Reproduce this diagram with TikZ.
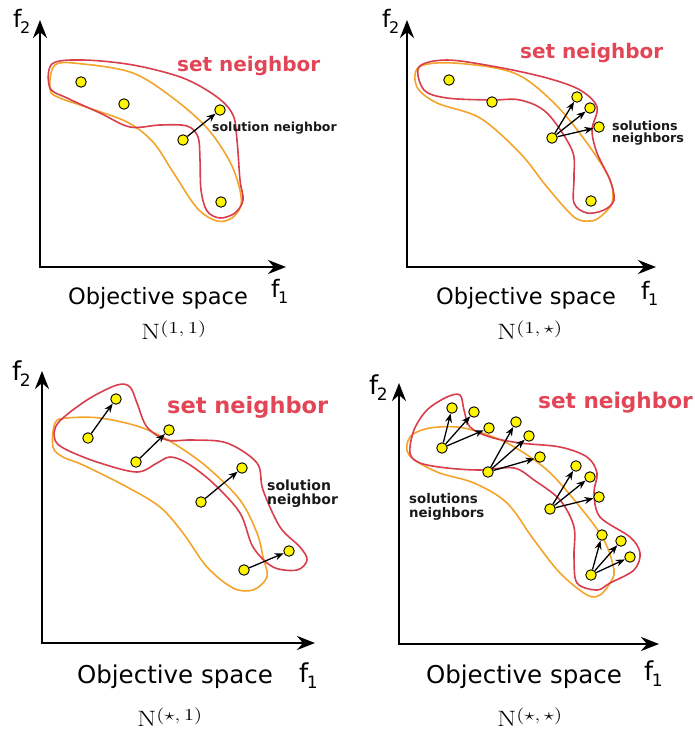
\RequirePackage{fix-cm}
\documentclass[tikz,border=0pt]{standalone}
\usepackage[no-math]{fontspec}
\setmainfont{DejaVu Sans}
\usetikzlibrary{arrows.meta}
\definecolor{setred}{RGB}{226,70,86}
\definecolor{curvered}{RGB}{216,62,76}
\definecolor{curveorange}{RGB}{244,164,42}
\definecolor{ptyellow}{RGB}{255,245,0}
\newcommand{\flabel}[3]{\fontsize{#2}{#2}\selectfont f\kern-1.5pt\raisebox{-6pt}{\fontsize{#3}{#3}\selectfont #1}}
\newcommand{\nsym}[1]{\scalebox{1.5}[1.2]{\fontsize{18.5}{20}\selectfont$\mathrm{N}$\raisebox{5pt}{\fontsize{14}{16}\selectfont$(#1)$}}}
\begin{document}
\begin{tikzpicture}[x=1pt,y=-1pt,
  axis/.style={line width=2.8pt, line join=miter,
    {Stealth[length=18pt,width=14pt,inset=6pt]}-{Stealth[length=18pt,width=14pt,inset=6pt]}},
  pt/.style={circle, draw=black, line width=0.9pt, fill=ptyellow, minimum size=10.5pt, inner sep=0pt},
  arr/.style={line width=1.3pt, -{Stealth[length=9pt,width=7pt]}},
  redc/.style={draw=curvered, line width=1.6pt},
  orc/.style={draw=curveorange, line width=1.6pt},
  olab/.style={font=\fontsize{22.5}{27}\selectfont, anchor=base, inner sep=0pt},
  olabb/.style={font=\fontsize{24.5}{29}\selectfont, anchor=base, inner sep=0pt},
  setlab/.style={font=\bfseries\fontsize{20}{24}\selectfont, text=setred, anchor=base west, inner sep=0pt},
  setlabb/.style={font=\bfseries\fontsize{22.5}{27}\selectfont, text=setred, anchor=base west, inner sep=0pt},
  sol/.style={text=black!90, anchor=base west, inner sep=0pt},
  nlab/.style={anchor=base west, inner sep=0pt},
  flab/.style={anchor=base west, inner sep=0pt}
]
\useasboundingbox (0,0) rectangle (694,731);

% ================= Panel 1 =================
\draw[orc] plot[smooth cycle, tension=0.55] coordinates {(50,90) (60,98) (83,106) (127,122) (153,142) (173,172) (197,208) (217,221) (232,218) (241,205) (239,186) (229,160) (207,128) (173,98) (133,73) (83,64) (55,65)};
\draw[redc] plot[smooth cycle, tension=0.55] coordinates {(52,64) (83,60) (133,65) (183,78) (217,97) (233,115) (237,140) (240,180) (243,200) (235,213) (220,218) (207,211) (201,190) (200,160) (198,137) (187,126) (160,125) (130,127) (100,113) (67,98) (50,88)};
\coordinate (y1) at (40,20); \coordinate (o1) at (40,267); \coordinate (x1) at (286,267);
\draw[axis] (y1) -- (o1) -- (x1);
\node[flab] (f2a) at (13,27) {\flabel{2}{24}{16}};
\node[flab] (f1a) at (271,297) {\flabel{1}{24}{16}};
\node[olab] (os1) at (158,304) {Objective space};
\node[nlab] (n1) at (141,339) {\nsym{1,1}};
\node[setlab] (sn1) at (177,71) {set neighbor};
\node[sol, font=\bfseries\fontsize{12.5}{15}\selectfont] (sl1) at (212,131) {solution neighbor};
\node[pt] (p1a) at (81,82) {};
\node[pt] (p1b) at (124,104) {};
\node[pt] (p1c) at (220,110) {};
\node[pt] (p1d) at (183,140) {};
\node[pt] (p1e) at (221,202) {};
\draw[arr] (p1d) -- (p1c);

% ================= Panel 2 =================
\draw[orc] plot[smooth cycle, tension=0.55] coordinates {(417,87) (419,67) (454,63) (514,73) (554,103) (587,143) (610,180) (612,203) (600,217) (590,221) (574,217) (547,187) (520,153) (480,118) (437,103)};
\draw[redc] plot[smooth cycle, tension=0.55] coordinates {(419,67) (447,60) (497,67) (547,78) (580,90) (597,107) (592,130) (597,153) (610,180) (614,200) (604,210) (587,213) (574,203) (574,177) (572,150) (547,113) (520,100) (490,100) (447,98) (424,90)};
\coordinate (y2) at (407,20); \coordinate (o2) at (407,267); \coordinate (x2) at (656,267);
\draw[axis] (y2) -- (o2) -- (x2);
\node[flab] (f2b) at (382,27) {\flabel{2}{24}{16}};
\node[flab] (f1b) at (641,299) {\flabel{1}{24}{16}};
\node[olab] (os2) at (526,304) {Objective space};
\node[nlab] (n2) at (497,339) {\nsym{1,\star}};
\node[setlab] (sn2) at (520,58) {set neighbor};
\node[sol, font=\bfseries\fontsize{12.7}{15}\selectfont] (sl2a) at (612,130) {solutions};
\node[sol, font=\bfseries\fontsize{12.7}{15}\selectfont] (sl2b) at (612,142) {neighbors};
\node[pt] (p2a) at (449,80) {};
\node[pt] (p2b) at (492,102) {};
\node[pt] (p2c) at (577,97) {};
\node[pt] (p2d) at (590,108) {};
\node[pt] (p2e) at (599,127) {};
\node[pt] (p2f) at (552,138) {};
\node[pt] (p2g) at (591,201) {};
\draw[arr] (p2f) -- (p2c);
\draw[arr] (p2f) -- (p2d);
\draw[arr] (p2f) -- (p2e);

% ================= Panel 3 =================
\draw[orc] plot[smooth cycle, tension=0.55] coordinates {(53,447) (55,423) (67,418) (100,418) (140,427) (173,443) (207,467) (240,500) (257,533) (263,557) (267,577) (253,590) (233,588) (207,567) (183,533) (160,507) (127,487) (83,465) (63,457)};
\draw[redc] plot[smooth cycle, tension=0.55] coordinates {(58,423) (87,400) (117,385) (130,387) (137,403) (147,427) (167,440) (193,440) (227,443) (257,463) (263,490) (280,527) (300,547) (307,560) (297,570) (273,567) (253,547) (240,513) (213,483) (187,463) (170,457) (157,463) (137,472) (100,463) (67,450) (55,440)};
\coordinate (y3) at (42,371); \coordinate (o3) at (42,643); \coordinate (x3) at (315,643);
\draw[axis] (y3) -- (o3) -- (x3);
\node[flab] (f2c) at (12,380) {\flabel{2}{26}{17}};
\node[flab] (f1c) at (299,682) {\flabel{1}{26}{17}};
\node[olabb] (os3) at (175,683) {Objective space};
\node[nlab] (n3) at (137,726) {\nsym{\star,1}};
\node[setlabb] (sn3) at (167,413) {set neighbor};
\node[sol, font=\bfseries\fontsize{14}{16}\selectfont] (sl3a) at (267,490) {solution};
\node[sol, font=\bfseries\fontsize{14}{16}\selectfont] (sl3b) at (267,504) {neighbor};
\node[pt] (p3a) at (88,438) {};
\node[pt] (p3b) at (116,399) {};
\node[pt] (p3c) at (136,462) {};
\node[pt] (p3d) at (169,430) {};
\node[pt] (p3e) at (201,502) {};
\node[pt] (p3f) at (242,468) {};
\node[pt] (p3g) at (244,570) {};
\node[pt] (p3h) at (289,551) {};
\draw[arr] (p3a) -- (p3b);
\draw[arr] (p3c) -- (p3d);
\draw[arr] (p3e) -- (p3f);
\draw[arr] (p3g) -- (p3h);

% ================= Panel 4 =================
\draw[orc] plot[smooth cycle, tension=0.55] coordinates {(409,455) (410,437) (430,428) (464,428) (507,443) (547,470) (580,507) (604,540) (614,570) (610,583) (600,595) (587,595) (560,573) (534,540) (507,503) (474,483) (437,472)};
\draw[redc] plot[smooth cycle, tension=0.55] coordinates {(410,453) (414,430) (427,410) (447,397) (460,395) (464,410) (470,427) (490,437) (520,443) (560,447) (587,457) (597,473) (594,493) (600,517) (630,537) (640,553) (634,570) (610,583) (597,590) (577,583) (574,557) (574,527) (560,500) (534,480) (514,468) (480,470) (447,468) (420,463)};
\coordinate (y4) at (399,383); \coordinate (o4) at (399,644); \coordinate (x4) at (659,644);
\draw[axis] (y4) -- (o4) -- (x4);
\node[flab] (f2d) at (369,394) {\flabel{2}{26}{17}};
\node[flab] (f1d) at (644,680) {\flabel{1}{26}{17}};
\node[olabb] (os4) at (524,683) {Objective space};
\node[nlab] (n4) at (497,726) {\nsym{\star,\star}};
\node[setlabb, font=\bfseries\fontsize{21.6}{26}\selectfont] (sn4) at (538,408) {set neighbor};
\node[sol, font=\bfseries\fontsize{13.3}{16}\selectfont] (sl4a) at (409,503) {solutions};
\node[sol, font=\bfseries\fontsize{13.3}{16}\selectfont] (sl4b) at (409,517) {neighbors};
% cluster 1
\node[pt] (q1s) at (442,448) {};
\node[pt] (q1a) at (452,408) {};
\node[pt] (q1b) at (474,412) {};
\node[pt] (q1c) at (489,428) {};
\draw[arr] (q1s) -- (q1a);
\draw[arr] (q1s) -- (q1b);
\draw[arr] (q1s) -- (q1c);
% cluster 2
\node[pt] (q2s) at (488,472) {};
\node[pt] (q2a) at (516,422) {};
\node[pt] (q2b) at (529,436) {};
\node[pt] (q2c) at (540,457) {};
\draw[arr] (q2s) -- (q2a);
\draw[arr] (q2s) -- (q2b);
\draw[arr] (q2s) -- (q2c);
% cluster 3
\node[pt] (q3s) at (550,509) {};
\node[pt] (q3a) at (576,466) {};
\node[pt] (q3b) at (590,477) {};
\node[pt] (q3c) at (599,497) {};
\draw[arr] (q3s) -- (q3a);
\draw[arr] (q3s) -- (q3b);
\draw[arr] (q3s) -- (q3c);
% cluster 4
\node[pt] (q4s) at (591,575) {};
\node[pt] (q4a) at (602,535) {};
\node[pt] (q4b) at (621,541) {};
\node[pt] (q4c) at (630,557) {};
\draw[arr] (q4s) -- (q4a);
\draw[arr] (q4s) -- (q4b);
\draw[arr] (q4s) -- (q4c);
\end{tikzpicture}
\end{document}
